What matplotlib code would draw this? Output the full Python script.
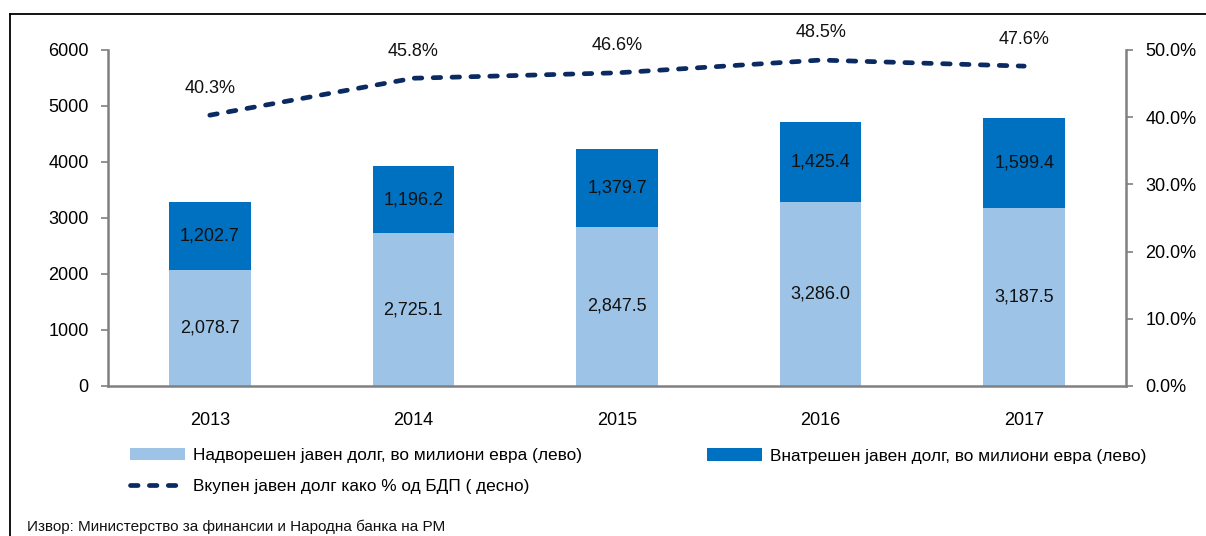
import matplotlib
matplotlib.use("Agg")
import matplotlib.pyplot as plt
from matplotlib.lines import Line2D
from matplotlib.patches import Patch

years = ["2013", "2014", "2015", "2016", "2017"]
external_debt = [2078.7, 2725.1, 2847.5, 3286.0, 3187.5]
domestic_debt = [1202.7, 1196.2, 1379.7, 1425.4, 1599.4]
debt_pct_gdp = [40.3, 45.8, 46.6, 48.5, 47.6]

left_ticks = [0, 1000, 2000, 3000, 4000, 5000, 6000]
right_ticks = [0, 10, 20, 30, 40, 50]

label_ext = "Надворешен јавен долг, во милиони евра (лево)"
label_dom = "Внатрешен јавен долг, во милиони евра (лево)"
label_tot = "Вкупен јавен долг како % од БДП ( десно)"
source = "Извор: Министерство за финансии и Народна банка на РМ"

LIGHT = "#9DC3E6"
DARK = "#0070C0"
NAVY = "#0B2A62"
GREY = "#808080"

W, H = 1206, 536
fig = plt.figure(figsize=(W / 100, H / 100), dpi=100)
num_font = ["Liberation Sans", "DejaVu Sans"]
txt_font = ["Liberation Sans", "DejaVu Sans"]
fs = 13.0

ax = fig.add_axes([108 / W, 150 / H, (1126 - 108) / W, (386 - 50) / H])
ax2 = ax.twinx()

x = list(range(len(years)))
b1 = ax.bar(x, external_debt, width=0.40, color=LIGHT, zorder=2)
b2 = ax.bar(x, domestic_debt, width=0.40, bottom=external_debt, color=DARK, zorder=2)
for bars in (b1, b2):
    ax.bar_label(bars, labels=[f"{v:,.1f}" for v in bars.datavalues],
                 label_type="center", fontsize=fs, family=num_font, color="#111111")

ax.set_xlim(-0.5, len(years) - 0.5)
ax.set_ylim(0, 6000)
ax.set_yticks(left_ticks)
ax.set_yticklabels([str(t) for t in left_ticks], family=num_font, fontsize=fs)
ax.set_xticks(x)
ax.set_xticklabels(years, family=num_font, fontsize=fs)
ax.tick_params(axis="x", length=0, pad=19)
ax.tick_params(axis="y", length=5, width=1.2, color=GREY, pad=9)

line, = ax2.plot(x, debt_pct_gdp, color=NAVY, lw=3.4, dashes=(1.6, 2.4),
                 dash_capstyle="round", zorder=3)
for xi, v in zip(x, debt_pct_gdp):
    ax2.annotate(f"{v:.1f}%", (xi, v), xytext=(0, 19.5), textcoords="offset points",
                 ha="center", va="center", fontsize=fs, family=num_font, color="#111111")
ax2.set_ylim(0, 50)
ax2.set_yticks(right_ticks)
ax2.set_yticklabels([f"{t:.1f}%" for t in right_ticks], family=num_font, fontsize=fs)
ax2.tick_params(axis="y", length=5, width=1.2, color=GREY, pad=9)

for a in (ax, ax2):
    a.spines["top"].set_visible(False)
    for s in ("left", "right", "bottom"):
        a.spines[s].set_color(GREY)
        a.spines[s].set_linewidth(1.8)
ax.spines["right"].set_visible(False)
ax2.spines["left"].set_visible(False)
ax2.spines["bottom"].set_visible(False)

h_ext = Patch(facecolor=LIGHT, edgecolor="none")
h_dom = Patch(facecolor=DARK, edgecolor="none")
h_tot = Line2D([], [], color=NAVY, lw=3.4, dashes=(1.6, 2.4), dash_capstyle="round")
leg_kw = dict(frameon=False, borderpad=0, borderaxespad=0, handlelength=3.2,
              handletextpad=0.45, labelspacing=0.98,
              prop={"family": txt_font, "size": 12.4})
leg1 = fig.legend([h_ext, h_tot], [label_ext, label_tot], loc="center left",
                  bbox_to_anchor=(130 / W, 1 - 471 / H), **leg_kw)
leg2 = fig.legend([h_dom], [label_dom], loc="center left",
                  bbox_to_anchor=(707 / W, 1 - 456 / H), **leg_kw)

fig.text(27 / W, 1 - 527 / H, source, ha="left", va="center",
         family=txt_font, fontsize=11.0, color="#111111")

# outer frame (left and top edges visible)
fig.add_artist(Line2D([10 / W, 10 / W], [-0.05, 1 - 14 / H], transform=fig.transFigure,
                      color="black", lw=1.3))
fig.add_artist(Line2D([10 / W, 1.05], [1 - 14 / H, 1 - 14 / H], transform=fig.transFigure,
                      color="black", lw=1.3))

fig.savefig("out.png", dpi=100)
